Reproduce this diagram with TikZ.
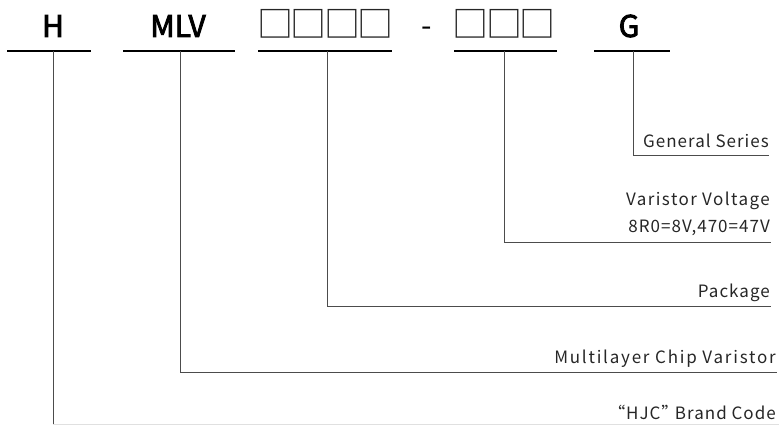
\documentclass[tikz,border=0pt]{standalone}
\usepackage{fontspec}
\setmainfont{Noto Sans CJK SC}
\newfontfamily\lblfont{Noto Sans CJK SC}[LetterSpace=6]
\newfontfamily\lblwidefont{Noto Sans CJK SC}[LetterSpace=10.5]
\newfontfamily\lblmidfont{Noto Sans CJK SC}[LetterSpace=8.5]
\newfontfamily\qfont{Noto Sans CJK SC}[LetterSpace=6,RawFeature=+palt]
\newcommand{\semibold}[1]{\special{pdf:literal direct q 2 Tr 0.9 w}#1\special{pdf:literal direct Q}}
\begin{document}
\begin{tikzpicture}[x=1pt,y=-1pt,
  bar/.style={line width=2.4pt, black},
  lead/.style={line width=1pt, black!70},
  code/.style={font=\fontsize{30}{30}\selectfont, anchor=base, inner sep=0pt, text=black},
  boxes/.style={font=\fontsize{36}{36}\selectfont, anchor=base, inner sep=0pt, text=black!85},
  lbl/.style={font=\fontsize{17}{17}\lblfont, anchor=base east, inner sep=0pt, text=black!85}]
\useasboundingbox (0,0) rectangle (779,425);
% code characters
\node[code] (h) at (53,37) {\semibold{H}};
\node[code] (mlv) at (178,37) {\semibold{MLV}};
\node[boxes] (p4) at (325.5,37.5) {□\kern-2.5pt□\kern-2.5pt□\kern-2.5pt□};
\node[code] (dash) at (427,37) {-};
\node[boxes] (p3) at (504,37.5) {□\kern-2.5pt□\kern-2.5pt□};
\node[code] (g) at (629,37) {\semibold{G}};
% bars
\coordinate (hL) at (7,51);   \coordinate (hR) at (91,51);   \coordinate (hT) at (53,51);
\coordinate (mL) at (123,51); \coordinate (mR) at (235,51);  \coordinate (mT) at (180,51);
\coordinate (pL) at (258,51); \coordinate (pR) at (392,51);  \coordinate (pT) at (327,51);
\coordinate (vL) at (454,51); \coordinate (vR) at (557,51);  \coordinate (vT) at (504,51);
\coordinate (gL) at (594,51); \coordinate (gR) at (670,51);  \coordinate (gT) at (633,51);
\draw[bar] (hL) -- (hR);
\draw[bar] (mL) -- (mR);
\draw[bar] (pL) -- (pR);
\draw[bar] (vL) -- (vR);
\draw[bar] (gL) -- (gR);
% labels
\node[lbl] (lg) at (769,147) {General Series};
\node[lbl,font=\fontsize{17}{17}\lblmidfont] (lv1) at (770,205) {Varistor Voltage};
\node[lbl] (lv2) at (770,232) {8R0=8V,470=47V};
\node[lbl] (lp) at (770,297) {Package};
\node[lbl,font=\fontsize{17}{17}\lblwidefont] (lm) at (776,363) {Multilayer Chip Varistor};
\node[lbl,font=\fontsize{17}{17}\qfont] (lh) at (776,419) {“HJC” Brand Code};
% leader ends
\coordinate (gE) at (769,156);
\coordinate (vE) at (771,242);
\coordinate (pE) at (771,306);
\coordinate (mE) at (777,372);
\coordinate (hB) at (53,425);
\coordinate (hE) at (779,424.5);
\draw[lead] (gT) |- (gE);
\draw[lead] (vT) |- (vE);
\draw[lead] (pT) |- (pE);
\draw[lead] (mT) |- (mE);
\draw[lead] (hT) -- (hB);
\draw[black!12, line width=1pt] (53,424.5) -- (hE);
\end{tikzpicture}
\end{document}
